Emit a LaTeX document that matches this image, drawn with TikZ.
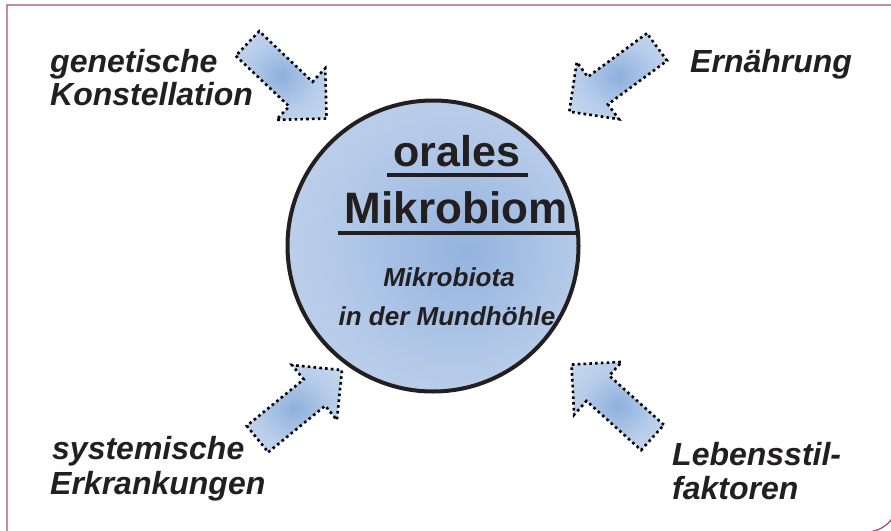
\documentclass[tikz,border=0pt]{standalone}
\usepackage{fontspec}
\setmainfont{Liberation Sans}
\definecolor{txt}{HTML}{231F20}
\definecolor{frm}{HTML}{B04A72}
\definecolor{cin}{HTML}{93B3DF}
\definecolor{cmid}{HTML}{B6CBE9}
\definecolor{cout}{HTML}{CCDBF0}
\definecolor{ain}{HTML}{8EB0DD}
\definecolor{amid}{HTML}{B8CDEA}
\definecolor{aout}{HTML}{D8E3F4}
\pgfdeclareradialshading{circshade}{\pgfpoint{6bp}{-1bp}}{color(0bp)=(cin); color(22bp)=(cmid); color(50bp)=(cout)}
\pgfdeclareradialshading{arrshade}{\pgfpoint{0bp}{0bp}}{color(0bp)=(ain); color(20bp)=(amid); color(50bp)=(aout)}
\newcommand\blkarrow[3]{%
  \begin{scope}[shift={(#1,#2)}, rotate=#3]
    \path[blockarrow] (0,17) -- (73.5,17) -- (73.5,35.5) -- (109,0) -- (73.5,-35.5) -- (73.5,-17) -- (0,-17) -- cycle;
  \end{scope}}
\begin{document}
\begin{tikzpicture}[x=1pt,y=-1pt,
  lbl/.style={font=\bfseries\itshape\fontsize{32}{34}\selectfont, text=txt, inner sep=0pt, anchor=base west},
  sublbl/.style={font=\bfseries\itshape\fontsize{26}{28}\selectfont, text=txt, inner sep=0pt, anchor=base},
  title/.style={font=\bfseries\fontsize{#1}{#1}\selectfont, text=txt, inner sep=0pt, anchor=base},
  uline/.style={draw=txt, line width=3.8pt},
  blockarrow/.style={shading=arrshade, draw=black, line width=2.6pt, dash pattern=on 2.6pt off 3.2pt, line join=miter}]
\useasboundingbox (0,0) rectangle (891,530);
% frame
\draw[frm, line width=1.3pt] (7,532) -- (7,5) -- (898,5) -- (898,500) arc[start angle=0, end angle=90, radius=32] -- cycle;
% arrows
\blkarrow{247.5}{43.5}{-43.5}
\blkarrow{657}{47}{-143.6}
\blkarrow{257.5}{439}{39.2}
\blkarrow{652.5}{437.5}{138}
% circle
\node[circle, draw=txt, line width=4pt, minimum size=291pt, inner sep=0pt, shading=circshade] (mb) at (433,246) {};
\node[title=43] (orales) at (457,166) {orales};
\node[title=44] (mikro) at (456,223) {Mikrobiom};
\path[uline] (387,175) -- (528,175);
\path[uline] (338,233) -- (576,233);
\node[sublbl] (mbiota) at (449,286) {Mikrobiota};
\node[sublbl] (mundh) at (447,325) {in der Mundhöhle};
% labels
\node[lbl] (gen1) at (50,72) {genetische};
\node[lbl] (gen2) at (50,105) {Konstellation};
\node[lbl] (ern) at (690,72) {Ernährung};
\node[lbl] (sys1) at (52,459) {systemische};
\node[lbl] (sys2) at (50,494) {Erkrankungen};
\node[lbl] (leb1) at (672,465) {Lebensstil-};
\node[lbl] (leb2) at (672,499) {faktoren};
\end{tikzpicture}
\end{document}
